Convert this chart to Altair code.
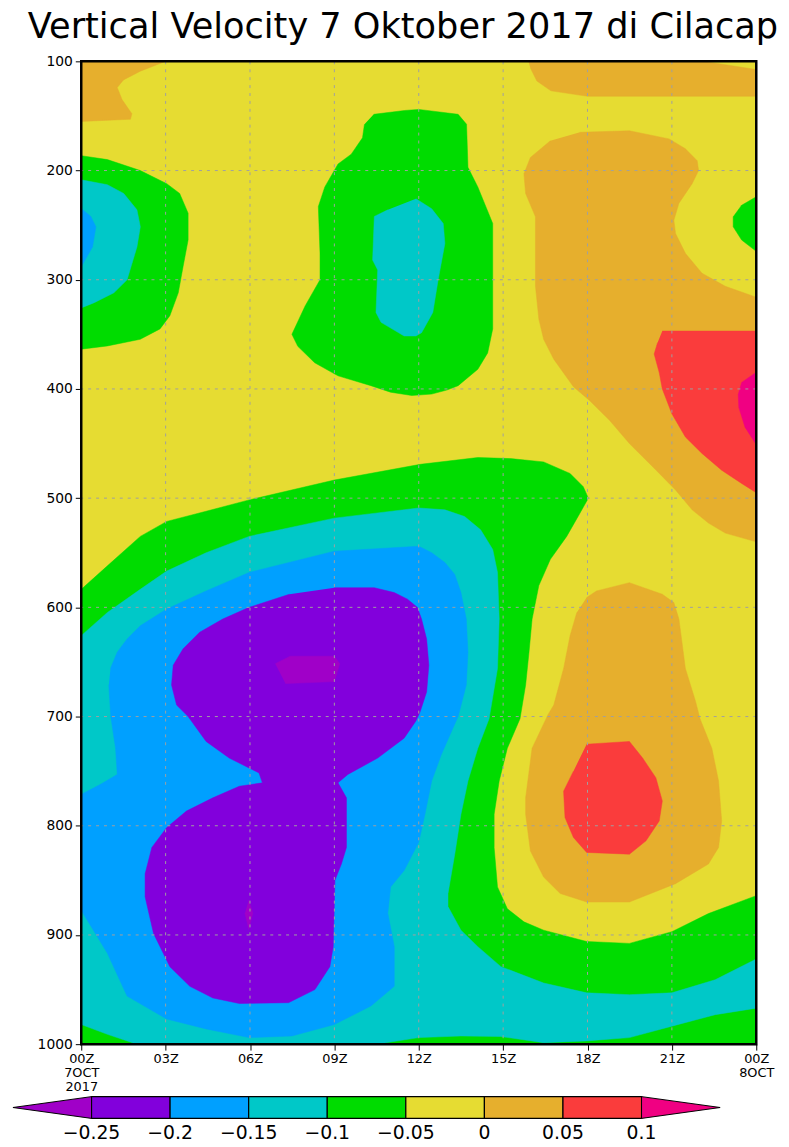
import json
import altair as alt
import pandas as pd

# ---------------- data ----------------
# class colours (GrADS shading):  < -0.25 | -0.25..-0.2 | -0.2..-0.15 | -0.15..-0.1 | -0.1..-0.05
#                                  -0.05..0 | 0..0.05 | 0.05..0.1 | > 0.1
class_codes = ["P", "V", "B", "C", "G", "Y", "O", "R", "M"]
class_colors = ["#a000c8", "#8200dc", "#00a0ff", "#00c8c8", "#00dc00",
                "#e6dc32", "#e6af2d", "#fa3c3c", "#f00082"]
class_breaks = [-0.30, -0.25, -0.20, -0.15, -0.10, -0.05, 0.0, 0.05, 0.10, 0.15]
legend_values = [-0.25, -0.2, -0.15, -0.1, -0.05, 0, 0.05, 0.1]
legend_labels = ["\u22120.25", "\u22120.2", "\u22120.15", "\u22120.1", "\u22120.05", "0", "0.05", "0.1"]

# whole field background class (the -0.05..0 band)
background = {"h0": [0], "h1": [24], "p0": [100], "p1": [1000], "cls": ["Y"]}

# shaded regions: (hour after 00Z 7 Oct, pressure hPa) vertices,
# listed in drawing order (inner contours after outer ones)
orange_top_left = [(0, 100), (3.0, 100), (2.1, 109), (1.5, 117), (1.28, 124), (1.45, 135),
                   (1.8, 148), (1.75, 153), (0, 155)]
orange_top_band = [(15.9, 100), (22.1, 100), (24, 107.5), (24, 132), (18.0, 132), (16.7, 127),
                   (16.2, 118), (15.97, 106)]
orange_right = [(17.73, 165), (19.49, 163.6), (20.9, 171), (21.48, 180), (21.9, 191), (21.95, 200),
                (21.72, 212), (21.25, 230), (21.07, 245.5), (21.13, 257.6), (21.48, 275.8),
                (22.07, 294), (22.9, 306), (24, 316), (24, 540), (22.9, 532), (22.3, 522.8),
                (21.72, 510.7), (21.13, 492.5), (20.31, 471), (19.49, 450), (18.79, 428.9),
                (18.08, 410.7), (17.5, 398), (16.8, 372.7), (16.44, 354.5), (16.27, 336),
                (16.15, 306), (16.15, 242.4), (15.8, 221), (15.74, 203), (15.97, 188), (16.68, 172.7)]
green_right_edge = [(24, 224), (23.48, 231.8), (23.18, 242.4), (23.18, 251.5), (23.48, 263.6), (24, 274)]
red_right = [(20.66, 347), (24, 347), (24, 495), (23.48, 486.5), (22.77, 474.4), (22.07, 459),
             (21.48, 444), (21.0, 422.8), (20.66, 400), (20.55, 385), (20.37, 368), (20.49, 357.6)]
magenta_right = [(24, 384.8), (23.48, 394), (23.36, 405), (23.38, 417), (23.6, 435), (24, 451)]
green_top_mid = [(10.4, 148.5), (11.5, 145), (12.0, 144), (13.4, 148.5), (13.7, 157.6), (13.75, 197),
                 (14.1, 215), (14.63, 248.5), (14.63, 345), (14.45, 367), (14.1, 382), (13.4, 397),
                 (13.0, 401), (12.46, 404.7), (11.75, 406), (11.0, 403), (10.3, 397), (9.13, 388),
                 (8.3, 376), (7.7, 361), (7.49, 350), (7.96, 324), (8.49, 300), (8.49, 276),
                 (8.43, 233), (8.66, 215), (9.13, 194), (9.6, 185), (10.0, 170), (10.07, 157.6)]
cyan_top_mid = [(11.9, 225.8), (12.46, 235), (12.87, 248.5), (12.93, 266.7), (12.69, 300), (12.5, 330),
                (12.1, 348.5), (11.9, 351.5), (11.48, 351.5), (10.66, 339), (10.48, 330), (10.54, 291),
                (10.36, 282), (10.42, 242), (10.9, 236)]
green_left = [(0, 186.4), (0.93, 190), (2.1, 200), (3.04, 212), (3.5, 221), (3.8, 239), (3.8, 263.6),
              (3.62, 288), (3.45, 312), (3.15, 333), (2.8, 345), (2.1, 354.5), (0.93, 360.6), (0, 363.6)]
cyan_left = [(0, 208.5), (0.93, 213), (1.51, 221), (1.98, 236), (2.1, 251.5), (1.98, 270), (1.63, 300),
             (1.16, 312), (0.46, 321), (0, 325.8)]
blue_left = [(0, 234.8), (0.34, 242), (0.52, 251.5), (0.4, 270), (0, 288)]
green_low = [(0, 583.5), (0.93, 562), (2.1, 535), (3.04, 521.3), (4.44, 512), (5.97, 501.6), (9.0, 483.4),
             (12.06, 469), (14.1, 462.8), (15.27, 463.8), (16.44, 466.8), (17.38, 477.4), (17.85, 489.5),
             (18.03, 500), (17.73, 513.8), (17.26, 535), (16.68, 556), (16.27, 580), (16.03, 610.7),
             (15.92, 641), (15.8, 671), (15.6, 702), (15.15, 729), (14.86, 759), (14.68, 789.5),
             (14.68, 820), (14.8, 856), (15.15, 876), (15.74, 888), (16.44, 895.6), (17.97, 906),
             (19.49, 907.7), (21.0, 897), (22.3, 880.4), (24, 864), (24, 1000), (0, 1000)]
cyan_low = [(0, 625.9), (0.93, 604.7), (2.1, 583.5), (3.04, 566.8), (4.44, 550), (5.97, 535), (9.0, 518.3),
            (12.0, 509), (12.93, 510.7), (13.63, 516.8), (14.2, 529), (14.63, 547), (14.8, 568),
            (14.86, 610.7), (14.8, 656), (14.5, 702), (14.1, 729), (13.75, 759), (13.5, 789.5),
            (13.28, 826), (13.04, 862), (13.04, 874), (13.5, 895.6), (14.1, 910.7), (14.92, 929),
            (16.44, 944), (17.97, 953), (19.49, 954.7), (21.0, 953), (22.54, 941), (24, 922), (24, 967),
            (22.54, 973), (21.0, 983.5), (19.49, 994), (17.97, 997), (16.44, 998.6), (14.92, 993),
            (13.5, 992.5), (12.0, 994), (10.5, 1000), (1.98, 1000), (0.93, 991), (0, 982)]
blue_low = [(1.04, 656), (1.28, 641), (1.63, 629), (2.1, 616.8), (3.04, 601.6), (4.44, 585), (5.97, 568),
            (9.0, 548.6), (12.0, 544), (12.46, 550), (12.93, 559), (13.28, 569.8), (13.5, 586.5),
            (13.69, 610.7), (13.75, 641), (13.69, 671), (13.4, 700), (13.16, 713.8), (12.8, 735),
            (12.46, 759), (12.22, 789.5), (12.0, 815), (11.48, 841), (11.0, 856), (10.9, 880),
            (11.13, 910.7), (11.13, 947), (10.3, 965), (9.0, 982), (7.49, 992.5), (5.97, 994),
            (4.44, 986), (3.04, 977), (1.63, 956), (0.93, 916.8), (0, 877.4), (0, 771.3), (0.69, 762),
            (1.28, 753), (1.22, 729), (1.05, 700), (0.98, 671)]
violet_low = [(9.0, 582), (10.42, 582), (11.13, 586.5), (11.6, 592.5), (11.95, 600), (12.1, 610.7),
              (12.28, 629), (12.36, 653), (12.28, 677.4), (12.05, 695.6), (11.9, 704), (11.48, 719.8),
              (10.54, 738), (9.48, 753), (9.13, 760.7), (9.43, 774.4), (9.43, 819.8), (9.25, 835),
              (9.02, 850), (8.96, 910.7), (8.84, 929), (8.31, 950), (7.37, 962), (5.62, 962.8),
              (4.68, 957.7), (3.86, 947), (3.15, 929), (2.57, 898.6), (2.27, 865), (2.27, 844),
              (2.51, 819.8), (3.04, 801.6), (3.74, 786.5), (4.68, 774.4), (5.62, 763.8), (6.44, 760.7),
              (6.32, 751.6), (5.26, 738), (4.44, 722.8), (3.8, 700), (3.39, 689.5), (3.21, 671),
              (3.27, 653), (3.62, 638), (4.21, 622.8), (5.03, 610.7), (5.97, 600), (7.4, 588)]
purple_spot_a = [(6.9, 651.6), (7.43, 644.7), (9.0, 644.7), (9.19, 651.6), (9.0, 668), (7.26, 669.8)]
purple_spot_b = [(5.96, 868), (6.1, 880), (5.96, 895), (5.82, 880)]
orange_low = [(17.97, 591), (18.32, 585), (19.49, 577.4), (20.66, 588), (21.07, 595.6), (21.25, 610.7),
              (21.48, 656), (21.84, 686), (22.0, 702), (22.42, 729), (22.66, 759), (22.77, 795.6),
              (22.66, 819.8), (22.3, 835), (21.13, 853), (19.49, 869.8), (17.97, 869.8), (17.03, 862),
              (16.44, 847), (15.97, 823), (15.8, 789.5), (15.8, 774.4), (16.03, 729), (16.6, 698),
              (16.8, 689.5), (17.15, 656), (17.38, 626), (17.62, 604.7)]
red_low = [(17.97, 725.3), (19.49, 722.8), (19.96, 738), (20.43, 756), (20.66, 777.4), (20.55, 795.6),
           (20.08, 813.8), (19.49, 826), (17.97, 824.4), (17.5, 810.7), (17.2, 792.5), (17.15, 768.3),
           (17.5, 750)]

regions = [
    ("O", orange_top_left), ("O", orange_top_band), ("O", orange_right), ("G", green_right_edge),
    ("R", red_right), ("M", magenta_right), ("G", green_top_mid), ("C", cyan_top_mid),
    ("G", green_left), ("C", cyan_left), ("B", blue_left), ("G", green_low), ("C", cyan_low),
    ("B", blue_low), ("V", violet_low), ("P", purple_spot_a), ("P", purple_spot_b),
    ("O", orange_low), ("R", red_low),
]

x_ticks = [0, 3, 6, 9, 12, 15, 18, 21, 24]
x_tick_labels = [["00Z", "7OCT", "2017"], ["03Z"], ["06Z"], ["09Z"], ["12Z"],
                 ["15Z"], ["18Z"], ["21Z"], ["00Z", "8OCT"]]
y_ticks = [100, 200, 300, 400, 500, 600, 700, 800, 900, 1000]
title_text = "Vertical Velocity 7 Oktober 2017 di Cilacap"

# ---------------- layout constants (pixels) ----------------
PLOT_W, PLOT_H = 682, 993
LABEL_FONT = "DejaVu Sans"
GRID_DASH = [3, 5]
GRID_COLOR = "#a0a0a0"
color_of = dict(zip(class_codes, class_colors))

label_expr = (json.dumps(x_tick_labels) + "[indexof(" + json.dumps(x_ticks) + ", datum.value)]")
x_scale = alt.Scale(domain=[0, 24], nice=False, zero=False)
y_scale = alt.Scale(domain=[100, 1000], reverse=True, nice=False, zero=False)
x_axis = alt.Axis(values=x_ticks, labelExpr=label_expr, title=None, grid=False,
                  domain=False, tickColor="black", tickSize=6, tickWidth=1,
                  labelFont=LABEL_FONT, labelFontSize=13, labelColor="black",
                  labelLineHeight=14, labelPadding=3, labelFlush=False,
                  labelOverlap=False, zindex=1)
y_axis = alt.Axis(values=y_ticks, format="d", title=None, grid=False, domain=False,
                  tickColor="black", tickSize=6, tickWidth=1,
                  labelFont=LABEL_FONT, labelFontSize=14, labelColor="black",
                  labelPadding=3, labelFlush=False, labelOverlap=False, zindex=1)

# ---------------- field layers ----------------
base = alt.Chart(pd.DataFrame(background)).mark_rect(color=color_of["Y"]).encode(
    x=alt.X("h0:Q", scale=x_scale, axis=x_axis), x2="h1:Q",
    y=alt.Y("p0:Q", scale=y_scale, axis=y_axis), y2="p1:Q",
)

field_layers = [base]
for cls, verts in regions:
    df = pd.DataFrame({"k": list(range(len(verts))),
                       "h": [v[0] for v in verts], "p": [v[1] for v in verts]})
    col = color_of[cls]
    field_layers.append(
        alt.Chart(df).mark_line(fill=col, stroke=col, strokeWidth=0.5, clip=True).encode(
            x=alt.X("h:Q", scale=x_scale, axis=x_axis),
            y=alt.Y("p:Q", scale=y_scale, axis=y_axis),
            order=alt.Order("k:Q"),
        )
    )

# dotted grid over the shading (inner tick positions only; the frame covers the edges)
vgrid = alt.Chart(pd.DataFrame({"t": x_ticks[1:-1]})).mark_rule(
    color=GRID_COLOR, strokeWidth=1, strokeDash=GRID_DASH).encode(
    x=alt.X("t:Q", scale=x_scale, axis=x_axis))
hgrid = alt.Chart(pd.DataFrame({"t": y_ticks[1:-1]})).mark_rule(
    color=GRID_COLOR, strokeWidth=1, strokeDash=GRID_DASH).encode(
    y=alt.Y("t:Q", scale=y_scale, axis=y_axis))

frame = alt.Chart(pd.DataFrame({"k": [0]})).mark_rect(fillOpacity=0, stroke="black", strokeWidth=2.5).encode(
    x=alt.value(0), x2=alt.value(PLOT_W), y=alt.value(0), y2=alt.value(PLOT_H)
)
field = alt.layer(*field_layers, vgrid, hgrid, frame)

# ---------------- colour bar ----------------
boxes = pd.DataFrame({"x0": class_breaks[1:8], "x1": class_breaks[2:9], "cls": class_codes[1:8]})
tris = pd.DataFrame({
    "x": [class_breaks[0], class_breaks[1], class_breaks[8], class_breaks[9]],
    "lo": [0.5, 0.0, 0.0, 0.5],
    "hi": [0.5, 1.0, 1.0, 0.5],
    "cls": [class_codes[0], class_codes[0], class_codes[8], class_codes[8]],
})
labs = pd.DataFrame({"v": legend_values, "t": legend_labels})

color_scale = alt.Scale(domain=class_codes, range=class_colors)
leg_x = alt.Scale(domain=[class_breaks[0], class_breaks[-1]], range=[-69, 645.5], nice=False, zero=False)
leg_y = alt.Scale(domain=[0, 1], range=[1068, 1046], nice=False, zero=False)

leg_boxes = alt.Chart(boxes).mark_rect(stroke="black", strokeWidth=1.2).encode(
    x=alt.X("x0:Q", scale=leg_x, axis=None), x2="x1:Q",
    y=alt.YDatum(0, scale=leg_y, axis=None), y2=alt.Y2Datum(1),
    fill=alt.Fill("cls:N", scale=color_scale, legend=None),
)
leg_tris = alt.Chart(tris).mark_area(stroke="black", strokeWidth=1).encode(
    x=alt.X("x:Q", scale=leg_x, axis=None),
    y=alt.Y("lo:Q", scale=leg_y, axis=None, stack=None), y2="hi:Q",
    fill=alt.Fill("cls:N", scale=color_scale, legend=None),
    detail="cls:N",
)
leg_text = alt.Chart(labs).mark_text(baseline="top", dy=6, fontSize=19, font="DejaVu Sans",
                                     color="black").encode(
    x=alt.X("v:Q", scale=leg_x, axis=None),
    y=alt.YDatum(0, scale=leg_y, axis=None),
    text="t:N",
)
colorbar = alt.layer(leg_boxes, leg_tris, leg_text)

chart = alt.layer(field, colorbar).resolve_scale(
    x="independent", y="independent", fill="independent"
).properties(
    width=PLOT_W, height=PLOT_H,
    autosize=alt.AutoSizeParams(type="none"),
    padding={"left": 74, "top": 48, "right": 25, "bottom": 98},
    title=alt.TitleParams(title_text, font="DejaVu Sans", fontSize=35.5, fontWeight="normal",
                          color="black", anchor="middle", frame="group", dx=-16, dy=38,
                          baseline="bottom", offset=12),
).configure_view(stroke=None).configure(background="white")

chart.save("out.html", embed_options={"renderer": "svg", "actions": False})
